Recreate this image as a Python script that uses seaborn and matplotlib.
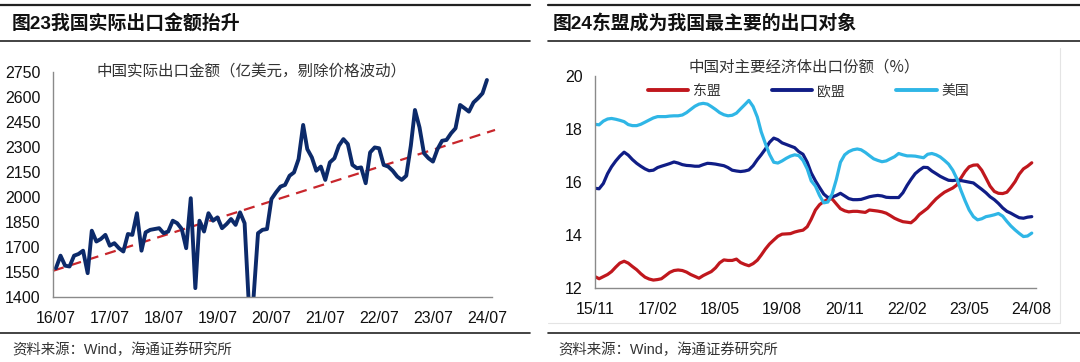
import numpy as np
import pandas as pd
import matplotlib
matplotlib.use("Agg")
import matplotlib.pyplot as plt
import seaborn as sns
from matplotlib.lines import Line2D


# -----------------------------
# Data
# -----------------------------
# Left: China real export value, monthly 2016/07 - 2024/07 (100m USD)
export_start = "2016-07-01"
export_values = [
    1575, 1650, 1590, 1585, 1650, 1660, 1680, 1545, 1800, 1735, 1750, 1775,
    1710, 1725, 1695, 1675, 1780, 1775, 1905, 1680, 1790, 1805, 1810, 1815,
    1785, 1795, 1860, 1845, 1810, 1695, 1995, 1455, 1860, 1795, 1905, 1860,
    1880, 1815, 1840, 1870, 1835, 1910, 1845, 1320, 1390, 1785, 1805, 1810,
    1990, 2030, 2065, 2075, 2130, 2150, 2230, 2435, 2290, 2240, 2160, 2185,
    2105, 2210, 2235, 2310, 2350, 2320, 2195, 2175, 2180, 2085, 2270, 2300,
    2295, 2195, 2185, 2160, 2125, 2105, 2130, 2310, 2525, 2420, 2265, 2235,
    2215, 2290, 2340, 2345, 2385, 2415, 2555, 2535, 2515, 2570, 2595, 2625,
    2705,
]
trend_dates = ["2016-06-11", "2024-08-25"]
trend_values = [1559, 2405]
left_yticks = [1400, 1550, 1700, 1850, 2000, 2150, 2300, 2450, 2600, 2750]

# Right: share of China's exports by destination, monthly 2015/11 - 2024/08 (%)
share_start = "2015-11-01"
asean_share = [
    12.44, 12.36, 12.44, 12.52, 12.63, 12.80, 12.95, 13.02, 12.95, 12.82, 12.70, 12.55,
    12.42, 12.35, 12.31, 12.33, 12.36, 12.48, 12.60, 12.67, 12.69, 12.67, 12.61, 12.52,
    12.45, 12.38, 12.48, 12.56, 12.63, 12.77, 12.96, 13.07, 13.05, 13.05, 13.10, 12.97,
    12.90, 12.85, 12.93, 13.06, 13.25, 13.48, 13.67, 13.82, 13.96, 14.04, 14.05, 14.06,
    14.12, 14.16, 14.19, 14.32, 14.60, 14.95, 15.15, 15.27, 15.35, 15.37, 15.18, 15.00,
    14.92, 14.88, 14.90, 14.90, 14.88, 14.86, 14.95, 14.93, 14.91, 14.88, 14.83, 14.74,
    14.64, 14.57, 14.51, 14.49, 14.47, 14.60, 14.78, 14.90, 15.02, 15.20, 15.37, 15.50,
    15.62, 15.70, 15.78, 15.90, 16.15, 16.40, 16.58, 16.64, 16.65, 16.45, 16.15, 15.85,
    15.65, 15.58, 15.57, 15.62, 15.80, 16.02, 16.30, 16.50, 16.60, 16.73,
]
eu_share = [
    15.77, 15.75, 15.95, 16.32, 16.58, 16.80, 16.98, 17.13, 17.02, 16.85, 16.71, 16.60,
    16.50, 16.43, 16.45, 16.55, 16.60, 16.65, 16.70, 16.76, 16.72, 16.66, 16.63, 16.62,
    16.60, 16.60, 16.66, 16.71, 16.70, 16.68, 16.65, 16.62, 16.55, 16.45, 16.42, 16.40,
    16.42, 16.46, 16.62, 16.85, 17.03, 17.25, 17.50, 17.66, 17.60, 17.48, 17.42, 17.36,
    17.30, 17.15, 17.05, 16.75, 16.35, 16.05, 15.80, 15.55, 15.42, 15.44, 15.50, 15.58,
    15.48, 15.38, 15.34, 15.34, 15.35, 15.40, 15.45, 15.48, 15.50, 15.48, 15.43, 15.42,
    15.42, 15.42, 15.60, 15.88, 16.10, 16.32, 16.45, 16.56, 16.55, 16.42, 16.32, 16.22,
    16.14, 16.07, 16.06, 16.08, 16.06, 16.03, 16.00, 15.97, 15.85, 15.73, 15.60, 15.45,
    15.34, 15.20, 15.03, 14.90, 14.83, 14.74, 14.66, 14.64, 14.68, 14.70,
]
us_share = [
    18.18, 18.16, 18.30, 18.38, 18.40, 18.37, 18.33, 18.28, 18.17, 18.13, 18.13, 18.18,
    18.26, 18.34, 18.42, 18.47, 18.47, 18.47, 18.49, 18.50, 18.50, 18.53, 18.62, 18.74,
    18.86, 18.94, 18.97, 18.94, 18.85, 18.74, 18.62, 18.54, 18.50, 18.52, 18.60, 18.76,
    18.92, 19.08, 18.85, 18.45, 17.90, 17.45, 17.05, 16.75, 16.72, 16.80, 16.90, 16.98,
    17.03, 17.00, 16.82, 16.50, 16.05, 15.85, 15.50, 15.22, 15.25, 15.55, 16.10, 16.75,
    17.03, 17.15, 17.22, 17.25, 17.22, 17.12, 17.00, 16.88, 16.82, 16.77, 16.80, 16.88,
    16.96, 17.08, 17.03, 16.99, 16.99, 16.98, 16.95, 16.92, 17.05, 17.08, 17.03, 16.95,
    16.82, 16.68, 16.45, 16.12, 15.70, 15.30, 14.95, 14.70, 14.58, 14.62, 14.70, 14.73,
    14.77, 14.82, 14.72, 14.52, 14.35, 14.20, 14.07, 13.95, 13.97, 14.08,
]
share_names = ["东盟", "欧盟", "美国"]
right_yticks = [12, 14, 16, 18, 20]

# Text
left_title = "图23我国实际出口金额抬升"
right_title = "图24东盟成为我国最主要的出口对象"
left_note = "中国实际出口金额（亿美元，剔除价格波动）"
right_note = "中国对主要经济体出口份额（%）"
source_text = "资料来源：Wind，海通证券研究所"

# -----------------------------
# Style
# -----------------------------
NAVY = "#0c2a6a"
DASH_RED = "#c8262c"
SERIES_COLORS = ["#c0171d", "#101d86", "#2fb6e6"]
SPINE = "#8a8a8a"
CJK = ["Noto Sans CJK SC", "DejaVu Sans"]

sns.set_theme(style="white")
plt.rcParams["font.family"] = ["Liberation Sans", "Noto Sans CJK SC", "DejaVu Sans"]

W, H = 1080, 362
fig = plt.figure(figsize=(W / 100, H / 100), dpi=100)


def px_axes(x0, y0, x1, y1):
    # pixel box (top-left origin) -> figure axes
    return fig.add_axes([x0 / W, 1 - y1 / H, (x1 - x0) / W, (y1 - y0) / H])


def style_axes(ax, yticks):
    sns.despine(ax=ax)
    for s in ("left", "bottom"):
        ax.spines[s].set_color(SPINE)
        ax.spines[s].set_linewidth(1.0)
    ax.set_yticks(yticks)
    ax.tick_params(axis="both", which="major", direction="out", length=4,
                   width=1, color=SPINE, labelsize=11.5, labelcolor="#111111")
    ax.tick_params(axis="y", pad=5)
    ax.tick_params(axis="x", pad=6)
    ax.set_xlabel("")
    ax.set_ylabel("")
    ax.grid(False)


# -----------------------------
# Left panel
# -----------------------------
export_df = pd.DataFrame({
    "date": pd.date_range(export_start, periods=len(export_values), freq="MS"),
    "value": export_values,
})
axl = px_axes(53, 72.5, 491.5, 297.3)
sns.lineplot(data=export_df, x="date", y="value", ax=axl, color=NAVY,
             linewidth=2.8, solid_joinstyle="round")
axl.plot(pd.to_datetime(trend_dates), trend_values, color=DASH_RED, lw=1.6,
         ls=(0, (5, 3.2)), clip_on=False, zorder=1)
axl.set_ylim(left_yticks[0], left_yticks[-1])
axl.set_xlim(pd.Timestamp("2016-06-11"), pd.Timestamp("2024-08-01"))
style_axes(axl, left_yticks)
lt = export_df["date"].iloc[::12]
axl.set_xticks(lt)
axl.set_xticklabels(lt.dt.strftime("%y/%m"))
axl.text(0.1, 1.0, left_note, transform=axl.transAxes, family=CJK,
         fontsize=11.2, color="#333333", va="center", ha="left")

# -----------------------------
# Right panel
# -----------------------------
dates_r = pd.date_range(share_start, periods=len(asean_share), freq="MS")
share_df = pd.DataFrame({"date": dates_r, share_names[0]: asean_share,
                         share_names[1]: eu_share, share_names[2]: us_share})
share_long = share_df.melt(id_vars="date", var_name="region", value_name="share")
axr = px_axes(595, 76, 1036, 288.3)
sns.lineplot(data=share_long, x="date", y="share", hue="region",
             hue_order=share_names, palette=SERIES_COLORS, ax=axr,
             linewidth=2.3, legend=False)
axr.set_ylim(right_yticks[0], right_yticks[-1])
axr.set_xlim(pd.Timestamp("2015-11-01"), pd.Timestamp("2024-09-01"))
style_axes(axr, right_yticks)
rt = share_df["date"].iloc[::15]
axr.set_xticks(rt)
axr.set_xticklabels(rt.dt.strftime("%y/%m"))
axr.text(0.211, 1.042, right_note, transform=axr.transAxes, family=CJK,
         fontsize=11.2, color="#333333", va="center", ha="left")
handles = [Line2D([], [], color=c, lw=2.8) for c in SERIES_COLORS]
leg = axr.legend(handles, share_names, loc="center left",
                 bbox_to_anchor=(0.12, 0.929), ncol=3, frameon=False,
                 handlelength=2.9, handletextpad=0.35, columnspacing=3.7,
                 borderpad=0, borderaxespad=0, prop={"family": CJK, "size": 10})
for t in leg.get_texts():
    t.set_color("#333333")

# -----------------------------
# Frame: title bars, source lines, faint panel edge on the right
# -----------------------------
for x0, x1 in [(0, 530), (548, 1080)]:
    for y, lw in [(5, 1.6), (41, 1.2), (333, 1.2)]:
        fig.add_artist(Line2D([x0 / W, x1 / W], [1 - y / H, 1 - y / H],
                              color="#222222", lw=lw))
fig.add_artist(Line2D([548 / W, 1060 / W, 1060 / W],
                      [1 - 323 / H, 1 - 323 / H, 1 - 48 / H],
                      color="#e4e4e4", lw=0.8))

fig.text(12 / W, 1 - 23 / H, left_title, fontsize=13.6, fontweight="bold",
         color="#111111", va="center", ha="left")
fig.text(553 / W, 1 - 23 / H, right_title, fontsize=13.6, fontweight="bold",
         color="#111111", va="center", ha="left")
for x in (12, 558):
    fig.text(x / W, 1 - 350 / H, source_text, fontsize=10.4, color="#333333",
             va="center", ha="left")

fig.savefig("out.png", dpi=100)
plt.close(fig)
